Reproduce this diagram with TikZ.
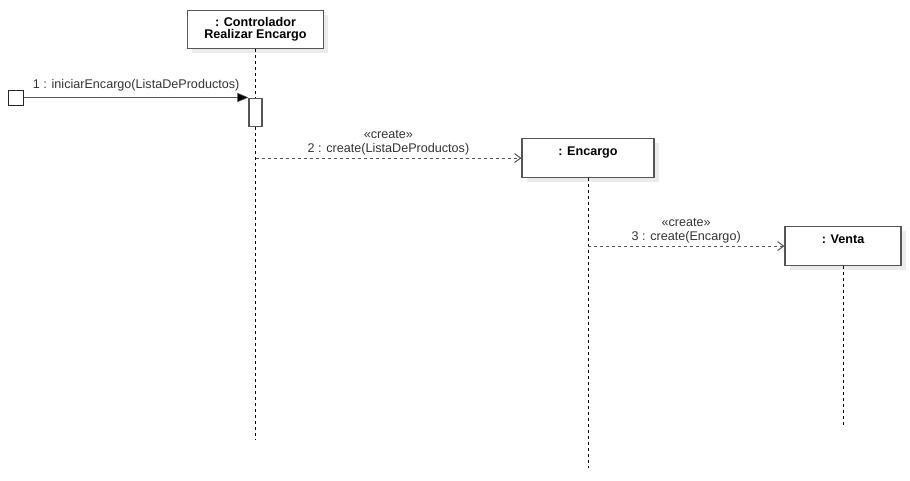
\documentclass[tikz,border=0pt]{standalone}
\usepackage{fontspec}
\setmainfont{Liberation Sans}
\usetikzlibrary{positioning,shadows,arrows.meta}
\definecolor{textgris}{RGB}{51,51,51}
\definecolor{vora}{RGB}{85,85,85}
\newcommand{\midalet}{\fontsize{12.6}{14}\selectfont}
\tikzset{
    Objeto/.style={draw=vora, line width=1.2pt, fill=white, rectangle, inner sep=3pt, font=\midalet\bfseries, text=black, align=center, drop shadow={shadow xshift=4.5pt, shadow yshift=-4.5pt, fill=black!8, opacity=1}},
    ObjetoAlt/.style={Objeto, text height=14pt, text depth=19pt},
    LineaVida/.style={draw=black, line width=0.8pt, dash pattern=on 3pt off 3pt},
    Activacion/.style={rectangle, draw=vora, line width=1.2pt, fill=white, minimum width=13pt, minimum height=28pt, inner sep=0pt, anchor=north},
    Inicio/.style={rectangle, draw=black!85, line width=0.9pt, fill=white, minimum size=15pt, inner sep=0pt},
    MsgSinc/.style={draw=vora, line width=1.3pt, -{Triangle[length=11pt,width=9pt,fill=black,line width=0.5pt]}},
    MsgCrear/.style={draw=vora, line width=1pt, dash pattern=on 3pt off 3pt, -{Straight Barb[length=6pt,width=9pt]}},
    Etiqueta/.style={font=\midalet, text=textgris, align=center, inner sep=1pt}
    }

\begin{document}
\begin{tikzpicture}[x=1pt, y=-1pt, font=\midalet]
\useasboundingbox (0,0) rectangle (910,480);

% objetos
\node[Objeto, minimum width=136pt, minimum height=38pt, anchor=north] (Ctrl) at (255.5,10) {: Controlador\\[-2pt]Realizar Encargo};
\node[ObjetoAlt, minimum width=132pt, anchor=north] (Enc) at (588,138) {: Encargo};
\node[ObjetoAlt, minimum width=116pt, anchor=north] (Venta) at (843,226) {: Venta};

% lineas de vida
\coordinate (FinCtrl) at (Ctrl.south |- 0,440);
\coordinate (FinEnc) at (Enc.south |- 0,468);
\coordinate (FinVenta) at (Venta.south |- 0,428);
\draw[LineaVida] (Ctrl.south) -- (FinCtrl);
\draw[LineaVida] (Enc.south) -- (FinEnc);
\draw[LineaVida] (Venta.south) -- (FinVenta);

\node[Activacion] (Act) at (Ctrl.south |- 0,97.5) {};
\node[Inicio] (Ini) at (16,97.5) {};

% mensajes
\draw[MsgSinc] (Ini.east) -- node[Etiqueta, above=5pt] (Msg1) {1 : iniciarEncargo(ListaDeProductos)} (Act.north west);

\coordinate (OrigEnc) at (Ctrl.south |- Enc.west);
\draw[MsgCrear] (OrigEnc) -- node[Etiqueta, above=1pt] (Msg2) {«create»\\2 : create(ListaDeProductos)} (Enc.west);

\coordinate (OrigVenta) at (Enc.south |- Venta.west);
\draw[MsgCrear] (OrigVenta) -- node[Etiqueta, above=1pt] (Msg3) {«create»\\3 : create(Encargo)} (Venta.west);

\end{tikzpicture}
\end{document}
